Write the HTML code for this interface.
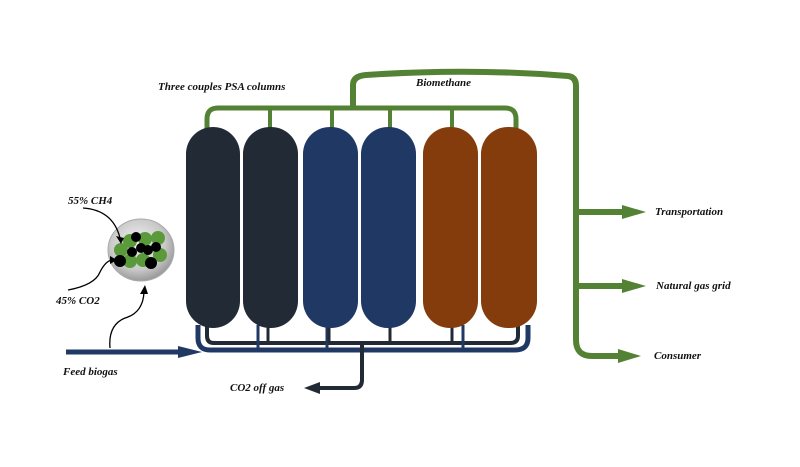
<!DOCTYPE html>
<html><head><style>
html,body{margin:0;padding:0;background:#fff}
svg text{font-family:"Liberation Serif",serif;font-style:italic;font-weight:bold;font-size:11px;fill:#111}
</style></head><body>
<svg width="800" height="462" viewBox="0 0 800 462" xmlns="http://www.w3.org/2000/svg">
<defs>
<radialGradient id="g" cx="0.45" cy="0.4" r="0.6">
<stop offset="0" stop-color="#f4f4f4"/><stop offset="0.7" stop-color="#c8c8c8"/><stop offset="1" stop-color="#9a9a9a"/>
</radialGradient>
</defs>
<!-- green header -->
<path d="M207,132 L207,119 Q207,108 218,108 L505,108 Q516,108 516,119 L516,132" fill="none" stroke="#548235" stroke-width="5"/>
<g stroke="#548235" stroke-width="4">
<line x1="270" y1="108" x2="270" y2="132"/><line x1="332" y1="108" x2="332" y2="132"/>
<line x1="390" y1="108" x2="390" y2="132"/><line x1="452" y1="108" x2="452" y2="132"/>
</g>
<path d="M353,108 L353,85 Q353,76 366,75 Q470,68 568,76 Q576,77 576,86 L576,340 Q576,356 592,356 L625,356" fill="none" stroke="#548235" stroke-width="6"/>
<line x1="576" y1="212" x2="625" y2="212" stroke="#548235" stroke-width="6"/>
<line x1="576" y1="286" x2="625" y2="286" stroke="#548235" stroke-width="6"/>
<polygon points="622,205 646,212 622,219" fill="#548235"/>
<polygon points="622,279 646,286 622,293" fill="#548235"/>
<polygon points="618,349 641,356 618,363" fill="#548235"/>
<!-- bottom manifold -->
<path d="M198,325 L198,338 Q198,350 210,350 L515,350 Q528,350 528,338 L528,325" fill="none" stroke="#1f3864" stroke-width="5"/>
<path d="M207,325 L207,336 Q207,343 214,343 L510,343 Q518,343 518,336 L518,325" fill="none" stroke="#222a35" stroke-width="4"/>
<g stroke="#1f3864" stroke-width="3">
<line x1="258" y1="325" x2="258" y2="350"/><line x1="327" y1="325" x2="327" y2="350"/><line x1="463" y1="325" x2="463" y2="350"/>
</g>
<g stroke="#222a35" stroke-width="3">
<line x1="268" y1="325" x2="268" y2="343"/><line x1="329" y1="325" x2="329" y2="343"/><line x1="390" y1="325" x2="390" y2="343"/><line x1="452" y1="325" x2="452" y2="343"/>
</g>
<path d="M362,345 L362,380 Q362,388 354,388 L318,388" fill="none" stroke="#222a35" stroke-width="4"/>
<polygon points="320,382 304,388 320,394" fill="#222a35"/>
<line x1="66" y1="352" x2="190" y2="352" stroke="#1f3864" stroke-width="5"/>
<polygon points="178,346 202,352 178,358" fill="#1f3864"/>
<!-- columns -->
<rect x="186" y="127" width="54" height="201" rx="27" fill="#222a35"/>
<rect x="243" y="127" width="55" height="201" rx="27" fill="#222a35"/>
<rect x="303" y="127" width="55" height="201" rx="27" fill="#1f3864"/>
<rect x="361" y="127" width="55" height="201" rx="27" fill="#1f3864"/>
<rect x="423" y="127" width="55" height="201" rx="27" fill="#843c0c"/>
<rect x="481" y="127" width="56" height="201" rx="27" fill="#843c0c"/>
<!-- molecule -->
<ellipse cx="141" cy="250" rx="33" ry="31" fill="url(#g)" stroke="#aaa"/>
<g fill="#5a9a3a">
<circle cx="121" cy="250" r="7"/><circle cx="130" cy="241" r="7"/><circle cx="145" cy="239" r="7"/><circle cx="158" cy="238" r="7"/><circle cx="160" cy="255" r="7"/><circle cx="143" cy="260" r="7"/><circle cx="130" cy="261" r="7"/>
</g>
<g fill="#000">
<circle cx="136" cy="237" r="5"/><circle cx="120" cy="261" r="6"/><circle cx="151" cy="263" r="6"/><circle cx="132" cy="252" r="5"/><circle cx="141" cy="248" r="5"/><circle cx="148" cy="250" r="5"/><circle cx="156" cy="247" r="5"/>
</g>
<g fill="none" stroke="#000" stroke-width="1.3">
<path d="M83,208 Q113,210 120,238"/><path d="M68,290 Q95,285 100,272 Q106,260 113,260"/><path d="M110,348 Q108,325 125,318 Q143,313 144,292"/>
</g>
<polygon points="116,236 124,238 121,244" fill="#000"/>
<polygon points="110,256 117,260 110,264" fill="#000"/>
<polygon points="140,294 148,294 145,285" fill="#000"/>
<text x="68" y="204">55% CH4</text>
<text x="56" y="304">45% CO2</text>
<text x="63" y="375">Feed biogas</text>
<text x="230" y="391">CO2 off gas</text>
<text x="158" y="90">Three couples PSA columns</text>
<text x="416" y="86">Biomethane</text>
<text x="655" y="215">Transportation</text>
<text x="656" y="289">Natural gas grid</text>
<text x="654" y="359">Consumer</text>
</svg>
</body></html>
